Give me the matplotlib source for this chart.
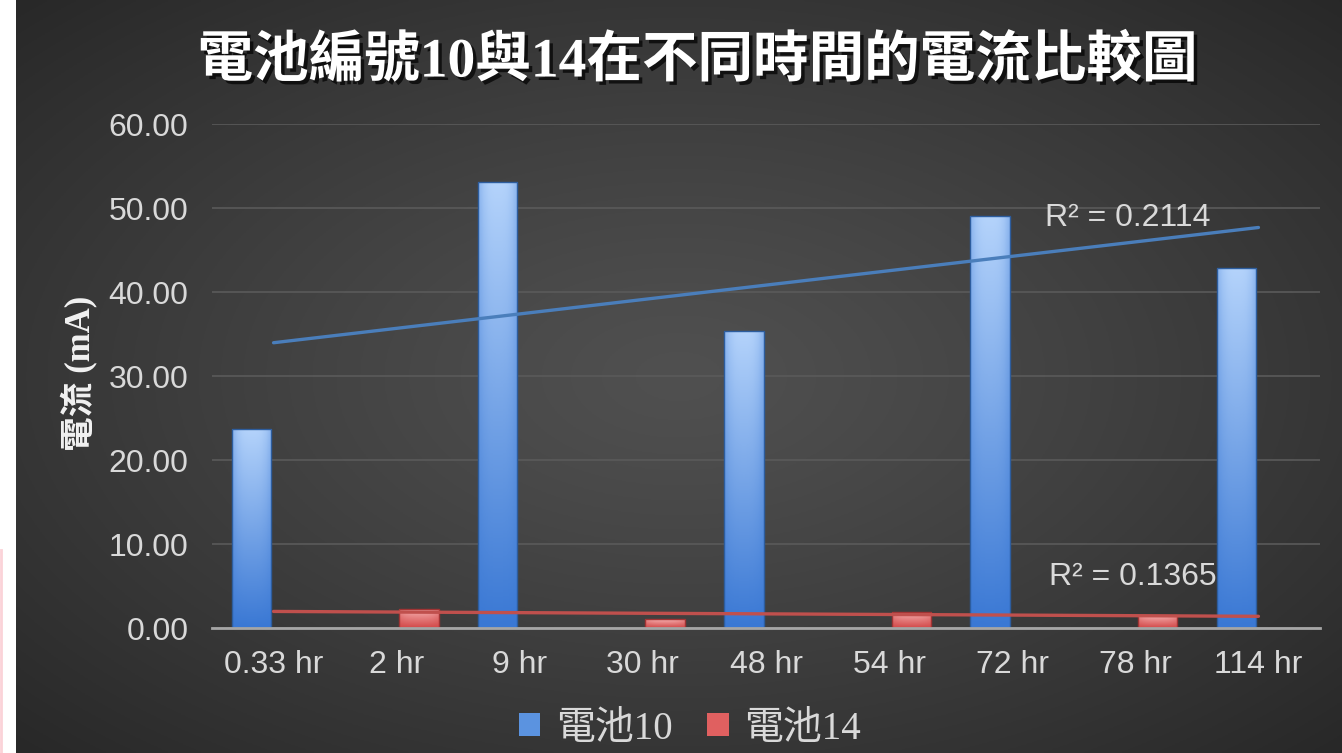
import numpy as np
import matplotlib
matplotlib.use("Agg")
import matplotlib.pyplot as plt
import matplotlib.patheffects as pe
from matplotlib.patches import Rectangle
from matplotlib.colors import LinearSegmentedColormap

# ---- data ----
categories = ["0.33 hr", "2 hr", "9 hr", "30 hr", "48 hr", "54 hr", "72 hr", "78 hr", "114 hr"]
battery10 = [23.7, np.nan, 53.1, np.nan, 35.4, np.nan, 49.0, np.nan, 42.9]
battery14 = [np.nan, 2.26, np.nan, 1.07, np.nan, 1.9, np.nan, 1.5, np.nan]
series_names = ["電池10", "電池14"]
r2_labels = ["R² = 0.2114", "R² = 0.1365"]
yticks = [0, 10, 20, 30, 40, 50, 60]
title = "電池編號10與14在不同時間的電流比較圖"
ylabel = "電流 (mA)"

W, H = 1342, 753
fig = plt.figure(figsize=(W / 100, H / 100), dpi=100)
fig.patch.set_facecolor("white")

# background panel with radial gradient
bg = fig.add_axes([16 / W, 0, 1 - 16 / W, 1])
bg.set_axis_off()
yy, xx = np.mgrid[0:1:300j, 0:1:500j]
r = np.sqrt(((xx - 0.5) / 0.75) ** 2 + ((yy - 0.5) / 0.75) ** 2)
r = np.clip(r, 0, 1)
v = 0x50 / 255 - (0x50 - 0x25) / 255 * r ** 1.2
bg.imshow(np.dstack([v, v, v]), extent=[0, 1, 0, 1], aspect="auto", origin="lower")
bg.set_xlim(0, 1)
bg.set_ylim(0, 1)
# thin pink line on left white strip
fig.add_artist(plt.Line2D([1 / W, 1 / W], [0, 1 - 550 / H], color="#fbd3d8", lw=2, transform=fig.transFigure))

ax = fig.add_axes([212 / W, 1 - 628 / H, (1320 - 212) / W, (628 - 124) / H])
ax.set_facecolor("none")
x = np.arange(len(categories))
bw = 0.32
off = 0.18

b10 = ax.bar(x - off, np.nan_to_num(battery10), bw, color="#5b93e0", label=series_names[0], zorder=3)
b14 = ax.bar(x + off, np.nan_to_num(battery14), bw, color="#e06060", label=series_names[1], zorder=3)

def shade(bars, top, bottom, edge):
    cm = LinearSegmentedColormap.from_list("g", [bottom, top])
    gy = np.linspace(0, 1, 128)[:, None]
    gx = np.linspace(-1, 1, 32)[None, :]
    img = gy * (1 - 0.35 * np.abs(gx) ** 3)
    for b in bars:
        h = b.get_height()
        if h <= 0:
            continue
        x0 = b.get_x()
        w = b.get_width()
        im = ax.imshow(img, cmap=cm, vmin=0, vmax=1, extent=[x0, x0 + w, 0, h],
                       origin="lower", aspect="auto", zorder=3.5)
        im.set_clip_path(b)
        ax.add_patch(Rectangle((x0, 0), w, h, fill=False, ec=edge, lw=1.0, zorder=3.6))

shade(b10, "#b4d3fb", "#3a78d4", "#2d5d9e")
shade(b14, "#f6b0b0", "#d24848", "#a03434")
ax.set_xlim(-0.5, len(categories) - 0.5)
ax.set_ylim(0, 60)

# trend lines (linear fit on available points)
for vals, col in [(battery10, "#4a7ebb"), (battery14, "#c0504d")]:
    arr = np.array(vals, dtype=float)
    m = ~np.isnan(arr)
    k, c = np.polyfit(x[m], arr[m], 1)
    ax.plot([x[0], x[-1]], [k * x[0] + c, k * x[-1] + c], color=col, lw=2.4, zorder=4,
            solid_capstyle="round")

ax.text(6.27, 48.8, r2_labels[0], color="#d9d9d9", fontsize=23, va="center", ha="left",
        family=["Liberation Sans", "DejaVu Sans"], zorder=5)
ax.text(6.30, 6.1, r2_labels[1], color="#d9d9d9", fontsize=23, va="center", ha="left",
        family=["Liberation Sans", "DejaVu Sans"], zorder=5)

ax.set_yticks(yticks)
ax.set_yticklabels([f"{t:.2f}" for t in yticks])
ax.set_xticks(x)
ax.set_xticklabels(categories)
ax.grid(axis="y", color="#5a5a5a", lw=1.2, zorder=0)
ax.set_axisbelow(True)
for s in ["top", "right", "left"]:
    ax.spines[s].set_visible(False)
ax.spines["bottom"].set_color("#a6a6a6")
ax.spines["bottom"].set_linewidth(2)
ax.spines["bottom"].set_zorder(6)
ax.tick_params(axis="both", length=0, labelcolor="#d9d9d9", labelsize=23)
ax.tick_params(axis="y", pad=17)
ax.tick_params(axis="x", pad=16)
for lab in ax.get_xticklabels() + ax.get_yticklabels():
    lab.set_family(["Liberation Sans", "DejaVu Sans"])

fig.text(80 / W, 1 - 373 / H, ylabel, rotation=90, color="#f2f2f2", fontsize=25, fontweight="bold",
         ha="center", va="center", family=["Liberation Serif", "Noto Sans CJK TC"])

fig.text(697 / W, 1 - 62 / H, title, color="white", fontsize=40, fontweight="bold",
         ha="center", va="center", family=["Liberation Serif", "Noto Sans CJK TC"],
         path_effects=[pe.withSimplePatchShadow(offset=(2.5, -2.5), shadow_rgbFace="black", alpha=0.7)])

leg = fig.legend(handles=[b10, b14], labels=series_names, loc="center", bbox_to_anchor=(690 / W, 1 - 729 / H),
                 ncol=2, frameon=False, handlelength=0.55, handleheight=0.55, handletextpad=0.4,
                 columnspacing=0.9, prop={"family": ["Liberation Serif", "Noto Sans CJK TC"], "size": 28})
for t in leg.get_texts():
    t.set_color("#d9d9d9")

fig.savefig("out.png", dpi=100, facecolor=fig.get_facecolor())
